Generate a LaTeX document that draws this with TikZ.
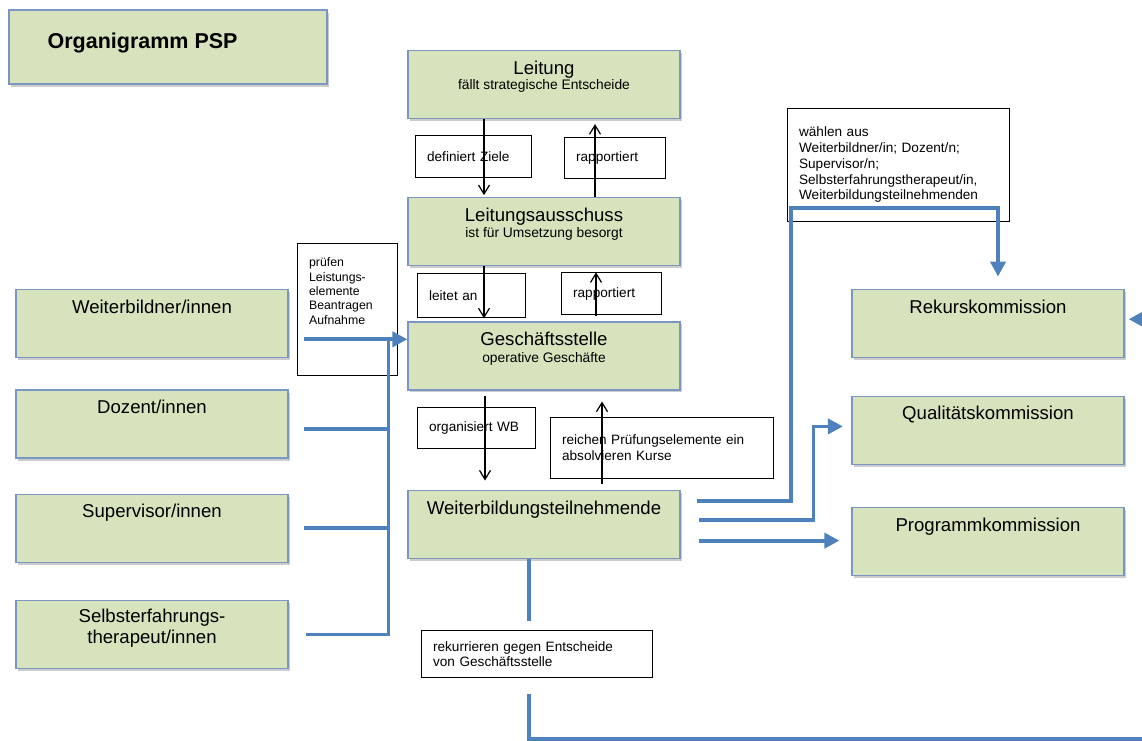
\documentclass[tikz,border=0pt]{standalone}
\usepackage{fontspec}
\setmainfont{Liberation Sans}
\usetikzlibrary{positioning,arrows.meta,shadows}

\definecolor{boxgreen}{RGB}{215,227,188}
\definecolor{boxedge}{RGB}{124,150,194}
\definecolor{linkblue}{RGB}{79,129,189}

\begin{document}
\begin{tikzpicture}[x=1pt, y=-1pt,
orgbox/.style={draw=boxedge, line width=1.2pt, fill=boxgreen, minimum width=272pt, minimum height=68pt, inner sep=0pt,
  drop shadow={shadow xshift=1.5pt, shadow yshift=-2.5pt, fill=black, opacity=.2}},
orgtitle/.style={font=\fontsize{18.6}{21}\selectfont, align=center, anchor=base, inner sep=0pt},
orgsub/.style={font=\fontsize{13.8}{16}\selectfont, anchor=base, inner sep=0pt},
note/.style={draw, line width=1.2pt, fill=white, anchor=north west, align=left, inner xsep=11.5pt, inner ysep=0pt,
  font=\fontsize{13.6}{15.8}\selectfont},
flow/.style={line width=1.2pt, -{Straight Barb[length=9pt, width=11pt]}},
link/.style={draw=linkblue, line width=3.8pt},
linkarrow/.style={link, -{Triangle[length=15pt, width=15pt]}},
]
\useasboundingbox (0,0) rectangle (1142,740);

% title
\node[orgbox, minimum width=318pt, minimum height=74pt] (head) at (168,47) {};
\node[font=\bfseries\fontsize{21.5}{24}\selectfont, anchor=base west, inner sep=0pt] (headtxt) at ([xshift=39pt, yshift=-1pt]head.west) {Organigramm PSP};

% middle column
\node[orgbox] (leit) at (544,84.5) {};
\node[orgbox, below=78pt of leit] (aus) {};
\node[orgbox, below=55pt of aus] (gs) {};
\node[orgbox, below=99pt of gs] (wbt) {};
\node[orgtitle] (leittxt) at ([yshift=-24.5pt]leit.north) {Leitung};
\node[orgsub] (leitsub) at ([yshift=-39.5pt]leit.north) {fällt strategische Entscheide};
\node[orgtitle] (austxt) at ([yshift=-24.5pt]aus.north) {Leitungsausschuss};
\node[orgsub] (aussub) at ([yshift=-40pt]aus.north) {ist für Umsetzung besorgt};
\node[orgtitle] (gstxt) at ([yshift=-24pt]gs.north) {Geschäftsstelle};
\node[orgsub] (gssub) at ([yshift=-41pt]gs.north) {operative Geschäfte};
\node[orgtitle] (wbttxt) at ([yshift=-24.5pt]wbt.north) {Weiterbildungsteilnehmende};

% left column
\node[orgbox] (wb) at (152,323.8) {};
\node[orgbox, below=31pt of wb] (doz) {};
\node[orgbox, below=35pt of doz] (sup) {};
\node[orgbox, below=37pt of sup] (sel) {};
\node[orgtitle] (wbtxt) at ([yshift=-24pt]wb.north) {Weiterbildner/innen};
\node[orgtitle] (doztxt) at ([yshift=-24pt]doz.north) {Dozent/innen};
\node[orgtitle] (suptxt) at ([yshift=-24pt]sup.north) {Supervisor/innen};
\node[orgtitle] (seltxt) at ([yshift=-43.5pt]sel.north) {Selbsterfahrungs-\\therapeut/innen};

% right column
\node[orgbox] (rek) at (988,323.2) {};
\node[orgbox, below=38pt of rek] (qual) {};
\node[orgbox, below=42pt of qual] (prog) {};
\node[orgtitle] (rektxt) at ([yshift=-25pt]rek.north) {Rekurskommission};
\node[orgtitle] (qualtxt) at ([yshift=-24pt]qual.north) {Qualitätskommission};
\node[orgtitle] (progtxt) at ([yshift=-24pt]prog.north) {Programmkommission};

% notes
\node[note, text width=93pt, minimum height=42pt] (ziele) at (415,135) {definiert Ziele};
\node[note, text width=78pt, minimum height=41pt] (rap1) at (564,136.5) {rapportiert};
\node[note, text width=85pt, minimum height=44pt] (leitet) at (417,273) {leitet an};
\node[note, text width=77pt, minimum height=42pt] (rap2) at (561,272) {rapportiert};
\node[note, text width=77pt, text height=23pt, text depth=109pt, font=\fontsize{12.3}{14.4}\selectfont] (pruef) at (297,243)
  {prüfen\\Leistungs-\\elemente\\Beantragen\\Aufnahme};
\node[note, text width=95pt, minimum height=40.5pt] (orgwb) at (417,407) {organisiert WB};
\node[note, text width=200pt, minimum height=61pt] (reich) at (550,416.5) {reichen Prüfungselemente ein\\absolvieren Kurse};
\node[note, text width=207.5pt, minimum height=47pt] (rekur) at (421,630) {rekurrieren gegen Entscheide\\von Geschäftsstelle};
\node[note, text width=198.5pt, minimum height=112.5pt] (waehl) at (787,108)
  {wählen aus\\Weiterbildner/in; Dozent/n;\\Supervisor/n;\\Selbsterfahrungstherapeut/in,\\Weiterbildungsteilnehmenden};

% up and down
\draw[flow, shorten >=2pt] ([xshift=-60pt]leit.south) -- ([xshift=-60pt]aus.north);
\draw[flow, shorten >=5pt] ([xshift=51pt]aus.north) -- ([xshift=51pt]leit.south);
\draw[flow, shorten >=3pt] ([xshift=-60pt]aus.south) -- ([xshift=-60pt]gs.north);
\draw[flow, shorten <=5pt, shorten >=6pt] ([xshift=52pt]gs.north) -- ([xshift=52pt]aus.south);
\draw[flow, shorten <=5pt, shorten >=9pt] ([xshift=-59pt]gs.south) -- ([xshift=-59pt]wbt.north);
\draw[flow, shorten <=6pt, shorten >=11pt] ([xshift=58pt]wbt.north) -- ([xshift=58pt]gs.south);

% blue links, left
\coordinate (trunk) at (388.5,339.3);
\draw[linkarrow] ([xshift=15pt,yshift=-15.5pt]wb.east) coordinate (wbout) -- (gs.west |- wbout);
\draw[link] ([xshift=15pt,yshift=-5pt]doz.east) coordinate (dozout) -- (trunk |- dozout);
\draw[link] ([xshift=15pt]sup.east) coordinate (supout) -- (trunk |- supout);
\draw[link] ([xshift=17pt]sel.east) coordinate (selout) -- (trunk |- selout) -- (trunk);

% blue links, right
\coordinate (rkturn) at (791,208);
\draw[linkarrow, shorten >=12pt] ([xshift=16pt,yshift=23.5pt]wbt.east) -| (rkturn) -| ([xshift=10pt]rek.north);
\draw[linkarrow, shorten >=8.5pt] ([xshift=18pt,yshift=4.5pt]wbt.east) -| ([xshift=-38pt,yshift=4pt]qual.west) -- ([yshift=4pt]qual.west);
\draw[linkarrow, shorten >=12pt] ([xshift=18pt,yshift=-16.5pt]wbt.east) coordinate (progout) -- (prog.west |- progout);

% blue link, bottom
\coordinate (rkdown) at (529,739);
\coordinate (rkright) at (1165,739);
\coordinate (rkup) at (1165,319.2);
\draw[link, shorten >=9pt] ([xshift=-15pt]wbt.south) -- (rkdown |- rekur.north);
\draw[linkarrow, shorten <=16pt, shorten >=4pt] (rkdown |- rekur.south) -- (rkdown) -- (rkright) -- (rkup) -- (rek.east |- rkup);
\end{tikzpicture}
\end{document}
